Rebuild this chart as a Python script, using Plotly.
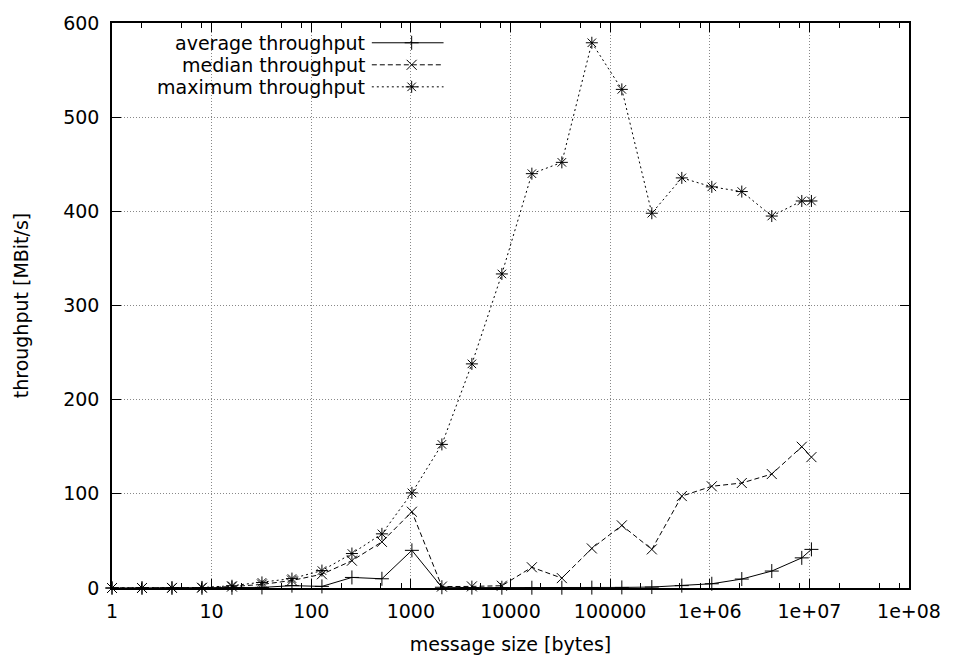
import plotly.graph_objects as go

# ---- data ----
msg_sizes = [1, 2, 4, 8, 16, 32, 64, 128, 256, 512, 1024, 2048, 4096, 8192, 16384,
             32768, 65536, 131072, 262144, 524288, 1048576, 2097152, 4194304,
             8388608, 10485760]
avg_tp = [0, 0, 0, 0.1, 0.2, 0.6, 2.5, 1.7, 11.2, 9.8, 40, 0.8, 0.4, 0.3, 0.3,
          0.3, 0.4, 0.6, 1.0, 2.5, 4.5, 9.5, 18, 32, 41]
median_tp = [0, 0, 0.1, 0.3, 1.5, 3.8, 8, 14.6, 29, 49, 81, 1.5, 1.7, 2.4, 22,
             10.5, 42, 66.5, 41, 97.6, 108, 111.5, 121, 150, 139]
max_tp = [0, 0.1, 0.2, 0.5, 2.4, 5.9, 10, 18.5, 36.6, 57.5, 101, 152.5, 238, 333.5, 440,
          452, 579, 529.5, 398, 435.5, 426, 421, 395, 411, 411]
series_names = ["average throughput", "median throughput", "maximum throughput"]
x_tick_vals = [1, 10, 100, 1000, 10000, 100000, 1e6, 1e7, 1e8]
x_tick_text = ["1", "10", "100", "1000", "10000", "100000", "1e+06", "1e+07", "1e+08"]
y_tick_vals = [0, 100, 200, 300, 400, 500, 600]

FONT = "DejaVu Sans"
FS = 19
styles = [
    dict(dash="solid", symbol="cross-thin-open"),
    dict(dash="5px,3px", symbol="x-thin-open"),
    dict(dash="2px,3px", symbol="asterisk-open"),
]

fig = go.Figure()
for name, vals, st in zip(series_names, [avg_tp, median_tp, max_tp], styles):
    fig.add_trace(go.Scatter(
        x=msg_sizes, y=vals, mode="lines+markers", name=name,
        line=dict(color="black", width=1, dash=st["dash"]),
        marker=dict(symbol=st["symbol"], size=10, color="black",
                    line=dict(color="black", width=1)),
        showlegend=False, cliponaxis=False,
    ))

# custom gnuplot-style key (text left, sample right)
key_rows = [0.965, 0.926, 0.887]
for name, st, ky in zip(series_names, styles, key_rows):
    fig.add_trace(go.Scatter(
        x=[0.326, 0.416], y=[ky, ky], xaxis="x2", yaxis="y2", mode="lines",
        line=dict(color="black", width=1, dash=st["dash"]), showlegend=False,
        hoverinfo="skip"))
    fig.add_trace(go.Scatter(
        x=[0.376], y=[ky], xaxis="x2", yaxis="y2", mode="markers",
        marker=dict(symbol=st["symbol"], size=10, color="black",
                    line=dict(color="black", width=1)),
        showlegend=False, hoverinfo="skip"))
    fig.add_annotation(x=0.32, y=ky, xref="paper", yref="paper", text=name,
                       showarrow=False, xanchor="right", yanchor="middle",
                       font=dict(family=FONT, size=FS, color="black"))

fig.add_shape(type="rect", xref="paper", yref="paper", x0=0.035, x1=0.43,
              y0=0.866, y1=0.995, fillcolor="white", line=dict(width=0),
              layer="between")

minor_vals = []
for d in range(8):
    for m in (2, 5, 8):
        minor_vals.append(m * 10 ** d)

axis_common = dict(
    showline=True, linecolor="black", linewidth=1.5, mirror="allticks",
    ticks="inside", ticklen=9, tickwidth=1, tickcolor="black",
    showgrid=True, gridcolor="#888888", gridwidth=1, griddash="1px,2px",
    zeroline=False, tickfont=dict(family=FONT, size=FS, color="black"),
)

fig.update_layout(
    width=953, height=664,
    margin=dict(l=112, r=41, t=16, b=74),
    paper_bgcolor="white", plot_bgcolor="white",
    font=dict(family=FONT, size=FS, color="black"),
    xaxis=dict(type="log", range=[0, 8], tickmode="array", tickvals=x_tick_vals,
               ticktext=x_tick_text, ticklabelstandoff=5,
               minor=dict(tickmode="array", tickvals=minor_vals, ticks="inside",
                          ticklen=5, tickcolor="black", tickwidth=1, showgrid=False),
               title=dict(text="message size [bytes]", standoff=17,
                          font=dict(family=FONT, size=FS)),
               **axis_common),
    yaxis=dict(range=[0, 600], tickmode="array", tickvals=y_tick_vals,
               ticklabelstandoff=7,
               title=dict(text="throughput [MBit/s]", standoff=30,
                          font=dict(family=FONT, size=FS)),
               **axis_common),
    xaxis2=dict(overlaying="x", range=[0, 1], visible=False, anchor="y2"),
    yaxis2=dict(overlaying="y", range=[0, 1], visible=False, anchor="x2"),
)

fig.write_html("out.html")
